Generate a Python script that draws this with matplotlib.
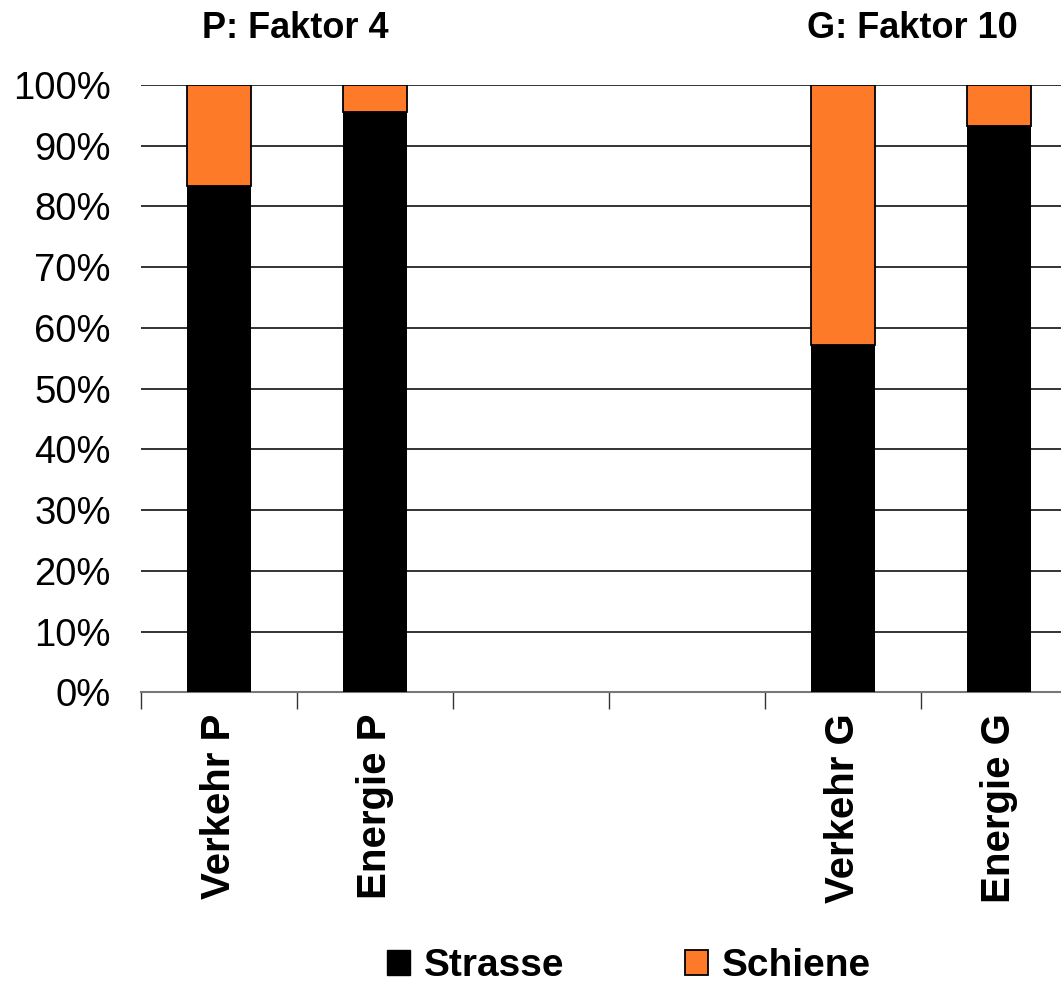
import matplotlib.pyplot as plt
from matplotlib.patches import Patch
from matplotlib.ticker import PercentFormatter

plt.rcParams['font.family'] = ['Liberation Sans', 'DejaVu Sans']

# Slots 2 and 3 stay empty to separate the two groups
categories = ['Verkehr P', 'Energie P', '', '', 'Verkehr G', 'Energie G']
strasse = [83.4, 95.5, 0, 0, 57.2, 93.3]
schiene = [16.6, 4.5, 0, 0, 42.8, 6.7]
group_titles = ['P: Faktor 4', 'G: Faktor 10']

W, H = 1061, 984
fig = plt.figure(figsize=(W / 100, H / 100), dpi=100)
ax = fig.add_axes([141.3 / W, 1 - 692.3 / H, 936 / W, (692.3 - 85) / H])

x = [i for i, c in enumerate(categories) if c]
s1 = [strasse[i] for i in x]
s2 = [schiene[i] for i in x]
ax.bar(x, s1, width=0.41, color='black', zorder=3)
ax.bar(x, s2, width=0.41, bottom=s1, color='#FC7A28', edgecolor='black',
       linewidth=1.3, zorder=3)

ax.set_xlim(-0.5, 5.5)
ax.set_ylim(0, 100)
ax.set_yticks(range(0, 101, 10))
ax.yaxis.set_major_formatter(PercentFormatter(decimals=0))
ax.tick_params(axis='y', length=0, labelsize=27.5, pad=22)
ax.yaxis.grid(True, color='#111111', linewidth=1.2, zorder=0)

ax.set_xticks([i - 0.5 for i in range(len(categories) + 1)])
ax.set_xticklabels([])
ax.set_xticks(x, minor=True)
ax.set_xticklabels([categories[i] for i in x], minor=True, rotation=90,
                   fontsize=29, fontweight='bold', va='top')
ax.tick_params(axis='x', which='major', length=12, width=1, color='#333333')
ax.tick_params(axis='x', which='minor', length=0, pad=15)

for side in ['left', 'right', 'top']:
    ax.spines[side].set_visible(False)
ax.spines['bottom'].set_color('#777777')
ax.spines['bottom'].set_linewidth(1.5)

fig.text(295 / W, 1 - 28 / H, group_titles[0], fontsize=26, fontweight='bold',
         ha='center', va='center')
fig.text(912 / W, 1 - 28 / H, group_titles[1], fontsize=26, fontweight='bold',
         ha='center', va='center')

handles = [Patch(facecolor='black', edgecolor='black', label='Strasse'),
           Patch(facecolor='#FC7A28', edgecolor='black', linewidth=1.3,
                 label='Schiene')]
fig.legend(handles=handles, loc='center', bbox_to_anchor=(629 / W, 1 - 966 / H),
           ncol=2, frameon=False, prop={'size': 28, 'weight': 'bold'},
           handlelength=0.6, handleheight=0.6, handletextpad=0.35,
           columnspacing=3.1)

fig.savefig('out.png', dpi=100)
